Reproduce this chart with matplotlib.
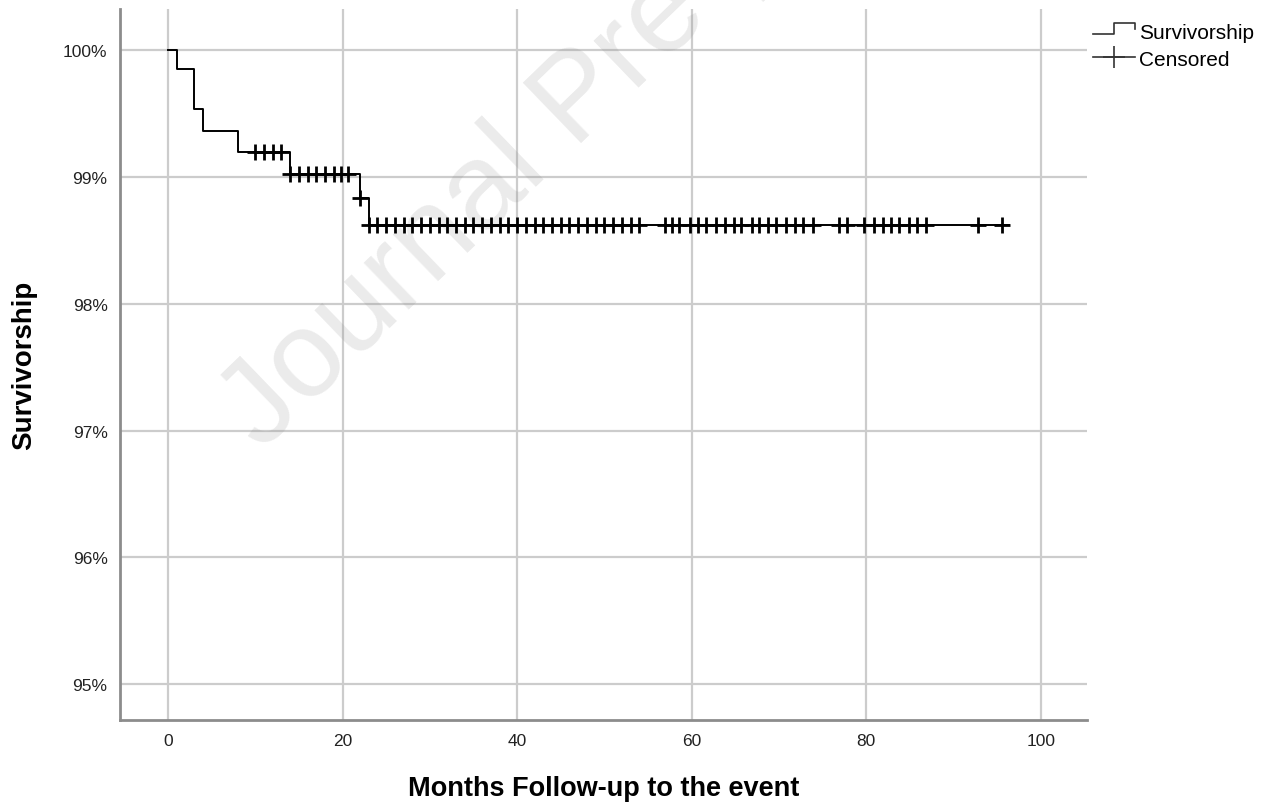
import numpy as np
import matplotlib.pyplot as plt
from matplotlib.lines import Line2D
from matplotlib.legend_handler import HandlerBase

plt.rcParams['font.family'] = ['Liberation Sans', 'DejaVu Sans']

# step curve (months, survival %)
step_t = [0, 1, 3, 4, 8, 14, 22, 23, 96.4]
step_s = [100.0, 99.85, 99.53, 99.36, 99.19, 99.02, 98.83, 98.62, 98.62]

# censored observations
cens_t = ([10, 11, 12, 12.9]
          + [14, 15, 16, 17, 18, 19, 19.8, 20.6]
          + [22]
          + list(range(23, 55))
          + [57, 57.8, 58.6, 59.8, 60.7, 61.7, 62.8, 63.8, 64.8, 65.7, 66.9,
             67.7, 68.7, 69.7, 70.8, 71.8, 72.8, 73.9, 76.9, 77.8, 79.8, 80.9,
             81.9, 82.9, 83.8, 84.9, 85.8, 86.8, 92.8, 95.6])

x_ticks = [0, 20, 40, 60, 80, 100]
y_ticks = [95, 96, 97, 98, 99, 100]


def surv_at(t):
    idx = np.searchsorted(step_t, t, side='right') - 1
    return np.array(step_s)[idx]


# legend symbol shaped like a small step
class StepHandler(HandlerBase):
    def create_artists(self, legend, orig, xd, yd, w, h, fontsize, trans):
        xs = [xd, xd + w * 0.5, xd + w * 0.5, xd + w, xd + w]
        ys = [yd + h * 0.15, yd + h * 0.15, yd + h * 0.85, yd + h * 0.85, yd + h * 0.5]
        return [Line2D(xs, ys, color='#333333', lw=1.2, transform=trans)]


fig = plt.figure(figsize=(12.66, 8.04), dpi=100)
ax = fig.add_axes([0.0948, 0.1032, 0.7638, 0.8844])

# watermark
ax.text(262 / 1266, 1 - 452 / 804, 'Journal Pre-proof', transform=fig.transFigure,
        fontsize=88, color='#808080', alpha=0.16, rotation=44,
        rotation_mode='anchor', ha='left', va='baseline', zorder=1)

ax.step(step_t, step_s, where='post', color='black', lw=1.4, zorder=3)
ax.plot(cens_t, surv_at(np.array(cens_t)), ls='none', marker='+', ms=11,
        mew=2.0, color='black', zorder=4)

ax.set_xlim(-5.5, 105.3)
ax.set_ylim(94.72, 100.32)
ax.set_xticks(x_ticks)
ax.set_yticks(y_ticks)
ax.set_yticklabels([f'{v}%' for v in y_ticks])
ax.tick_params(length=0, labelsize=12.5, colors='#222222')
ax.tick_params(axis='x', pad=9)
ax.tick_params(axis='y', pad=9)
ax.grid(True, color='#cccccc', lw=1.6)
ax.set_axisbelow(True)
for s in ['top', 'right']:
    ax.spines[s].set_visible(False)
for s in ['left', 'bottom']:
    ax.spines[s].set_color('#8c8c8c')
    ax.spines[s].set_linewidth(2)

ax.set_xlabel('Months Follow-up to the event', fontsize=19.5, fontweight='bold')
ax.xaxis.set_label_coords(0.5, -(796 - 721) / 711)
ax.xaxis.label.set_va('baseline')
ax.set_ylabel('Survivorship', fontsize=20, fontweight='bold')
ax.yaxis.set_label_coords(-(24 - 120) / -967, 0.5)
ax.yaxis.label.set_va('center')

h1 = Line2D([], [], color='black')
h2 = Line2D([], [], color='#333333', lw=1.2, marker='+', ms=16, mew=1.2)
ax.legend([h1, h2], ['Survivorship', 'Censored'],
          handler_map={h1: StepHandler()},
          loc='upper left', bbox_to_anchor=(1.0, 0.99), frameon=False,
          fontsize=15, handlelength=2.0, handleheight=0.8, handletextpad=0.2,
          labelspacing=0.4, borderaxespad=0.0, borderpad=0.3)

fig.savefig('out.png', dpi=100)
